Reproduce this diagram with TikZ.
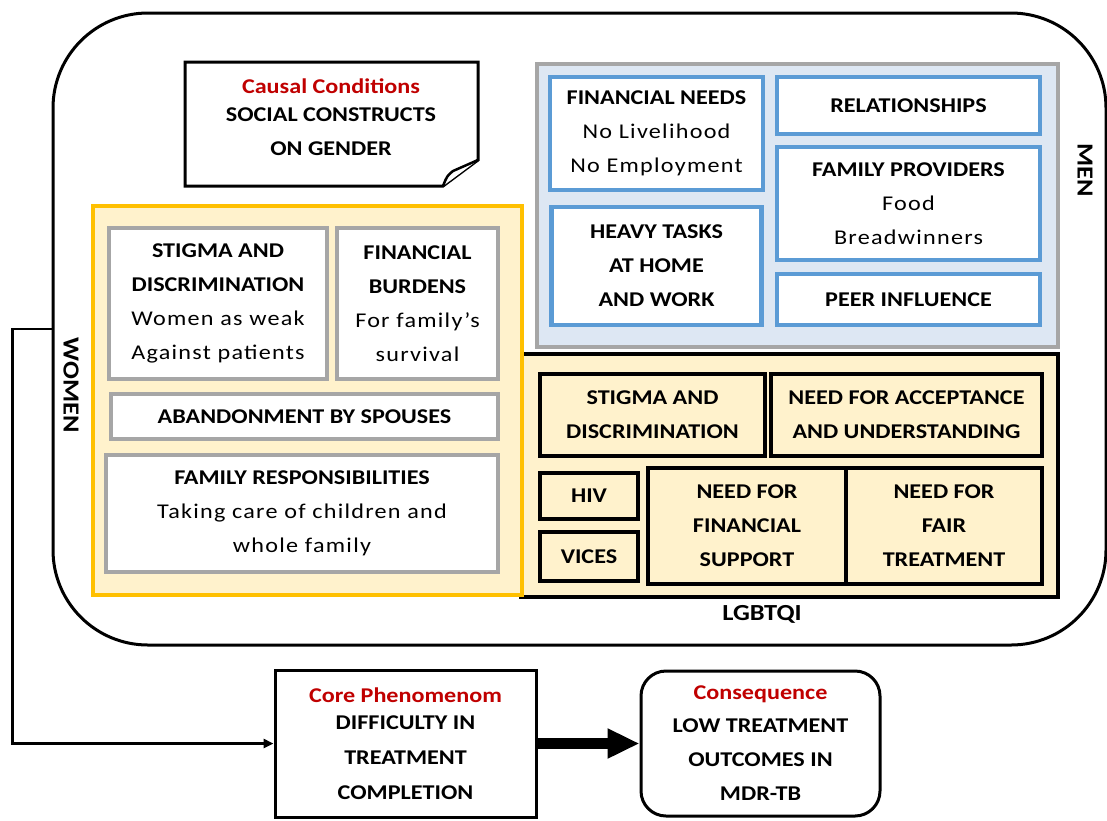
\documentclass[tikz,border=0pt]{standalone}
\usepackage{fontspec}
\setmainfont[FakeStretch=1.15]{Carlito}
\newfontfamily\lightfont[FakeStretch=1.15,LetterSpace=6]{Carlito}
\usetikzlibrary{positioning, arrows.meta}

\definecolor{menfill}{RGB}{221,231,243}
\definecolor{grayline}{RGB}{166,166,166}
\definecolor{boxblue}{RGB}{91,155,213}
\definecolor{goldline}{RGB}{255,192,0}
\definecolor{cream}{RGB}{255,242,204}
\definecolor{titlered}{RGB}{192,0,0}

\newcommand{\detail}[1]{{\lightfont\mdseries #1}}
\newcommand{\redtitle}[1]{{\color{titlered}#1}}

\tikzset{
  txt/.style={align=center, inner sep=0pt, font=\fontsize{21}{34}\selectfont\bfseries},
  frame/.style={draw, line width=3pt, rounded corners=95pt},
  mengroup/.style={draw=grayline, line width=4.5pt, fill=menfill},
  menbox/.style={txt, draw=boxblue, line width=4.5pt, fill=white},
  womengroup/.style={draw=goldline, line width=4pt, fill=cream},
  womenbox/.style={txt, draw=grayline, line width=4.5pt, fill=white},
  lgbtgroup/.style={draw, line width=3.5pt, fill=cream},
  lgbtbox/.style={txt, draw, line width=3.5pt, fill=cream},
  grouplabel/.style={txt, font=\fontsize{23}{26}\selectfont\bfseries},
}

\begin{document}
\begin{tikzpicture}[x=1pt, y=-1pt, on grid]
  \useasboundingbox (0,0) rectangle (1107,820);

  % outer frame
  \node[frame, minimum width=1053pt, minimum height=632pt] (frame) at (579.5,329) {};

  % causal conditions note
  \draw[line width=3pt, fill=white] (185,62) -- (478,62) -- (478,160) -- (443,186) -- (185,186) -- cycle;
  \draw[line width=2.5pt, fill=white, line join=round] (443,186) .. controls (447,176) .. (453,171) -- (478,160);
  \node[txt] (causal) at (331,117)
    {\redtitle{Causal Conditions}\\[-6pt]SOCIAL CONSTRUCTS\\ON GENDER};

  % men
  \node[mengroup, minimum width=521pt, minimum height=283pt] (men) at (797.5,205.5) {};
  \node[menbox, minimum width=213pt, minimum height=113pt] (finneeds) at (656.5,133.5)
    {FINANCIAL NEEDS\\\detail{No Livelihood}\\\detail{No Employment}};
  \node[menbox, minimum width=263pt, minimum height=57pt] (rel) [above right=28pt and 252pt of finneeds] {RELATIONSHIPS};
  \node[menbox, minimum width=263pt, minimum height=113pt] (famprov) [below=98pt of rel]
    {FAMILY PROVIDERS\\\detail{Food}\\\detail{Breadwinners}};
  \node[menbox, minimum width=263pt, minimum height=51pt] (peer) [below=96pt of famprov] {PEER INFLUENCE};
  \node[menbox, minimum width=210pt, minimum height=118pt] (heavy) [below=132.5pt of finneeds]
    {HEAVY TASKS\\AT HOME\\AND WORK};
  \node[grouplabel, rotate=-90] (menlbl) at (1085,170) {MEN};

  % lgbtqi
  \node[lgbtgroup, minimum width=537pt, minimum height=243pt] (lgbt) at (789.5,475.5) {};
  \node[lgbtbox, minimum width=225pt, minimum height=82pt] (stigmal) at (652.5,415)
    {STIGMA AND\\DISCRIMINATION};
  \node[lgbtbox, minimum width=271pt, minimum height=82pt] (accept) [right=254pt of stigmal]
    {NEED FOR ACCEPTANCE\\AND UNDERSTANDING};
  \node[lgbtbox, minimum width=98pt, minimum height=46pt] (hiv) [below left=81pt and 63.5pt of stigmal] {HIV};
  \node[lgbtbox, minimum width=98pt, minimum height=49pt] (vices) [below=60.5pt of hiv] {VICES};
  \node[lgbtbox, minimum width=198pt, minimum height=116pt] (finsup) [below right=111pt and 94.5pt of stigmal]
    {NEED FOR\\FINANCIAL\\SUPPORT};
  \node[lgbtbox, minimum width=196pt, minimum height=116pt] (fair) [right=197pt of finsup]
    {NEED FOR\\FAIR\\TREATMENT};
  \node[grouplabel] (lgbtlbl) at (762,614) {LGBTQI};

  % women
  \node[womengroup, minimum width=429pt, minimum height=389pt] (women) at (307.5,400.5) {};
  \node[womenbox, minimum width=218pt, minimum height=151pt] (stigmaw) at (218,303.5)
    {STIGMA AND\\DISCRIMINATION\\\detail{Women as weak}\\\detail{Against patients}};
  \node[womenbox, minimum width=161pt, minimum height=151pt] (burden) [right=199.5pt of stigmaw]
    {FINANCIAL\\BURDENS\\\detail{For family’s}\\\detail{survival}};
  \node[womenbox, minimum width=387pt, minimum height=45pt] (abandon) [below right=113pt and 86.5pt of stigmaw]
    {ABANDONMENT BY SPOUSES};
  \node[womenbox, minimum width=392pt, minimum height=117pt] (famresp) [below left=97pt and 2.5pt of abandon]
    {FAMILY RESPONSIBILITIES\\\detail{Taking care of children and}\\\detail{whole family}};
  \node[grouplabel, rotate=-90] (womenlbl) at (71,385) {WOMEN};

  % core and consequence
  \node[txt, draw, line width=3pt, fill=white, minimum width=261pt, minimum height=147pt,
        font=\fontsize{21}{35}\selectfont\bfseries] (core) at (405.5,743.5)
    {\redtitle{Core Phenomenom}\\[-8pt]DIFFICULTY IN\\TREATMENT\\COMPLETION};
  \node[txt, draw, line width=3pt, fill=white, rounded corners=25pt, minimum width=239pt, minimum height=145pt]
    (cons) [right=355pt of core]
    {\redtitle{Consequence}\\[-1pt]LOW TREATMENT\\OUTCOMES IN\\MDR-TB};

  \draw[line width=11pt, -{Triangle[length=32pt, width=28pt]}] (core) -- (cons);
  \draw[line width=2.5pt, -{Triangle[length=10pt, width=9pt]}] (frame.west) -- ++(-39,0) |- (core.west);
\end{tikzpicture}
\end{document}
